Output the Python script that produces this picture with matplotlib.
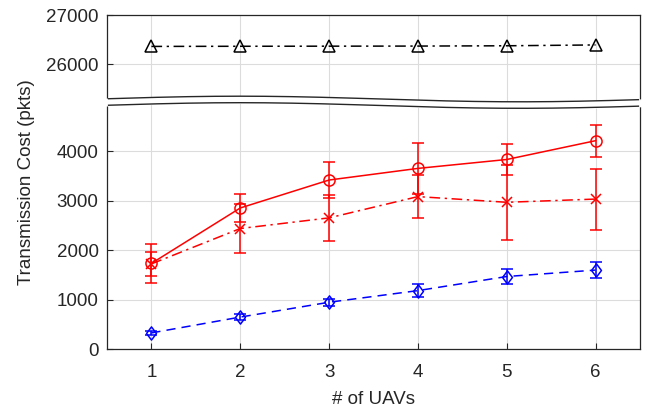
import numpy as np
import matplotlib.pyplot as plt
from matplotlib.path import Path

plt.rcParams['font.family'] = ['Liberation Sans', 'DejaVu Sans']

# data
n_uavs = [1, 2, 3, 4, 5, 6]
circle_cost = [1730, 2850, 3415, 3650, 3830, 4210]
circle_err = [390, 290, 370, 520, 315, 320]
cross_cost = [1720, 2435, 2650, 3080, 2965, 3030]
cross_err = [250, 500, 465, 435, 755, 615]
diamond_cost = [325, 645, 945, 1180, 1465, 1595]
diamond_err = [40, 60, 70, 130, 145, 160]
triangle_cost = [26365, 26368, 26370, 26372, 26378, 26395]

low_ticks = [0, 1000, 2000, 3000, 4000]
high_ticks = [26000, 27000]

# the upper block of the axis is shifted down onto the lower one
shift = 20250
ymax = 27000 - shift

dark = '#262626'
fig = plt.figure(figsize=(6.5, 4.13), dpi=100)
ax = fig.add_axes([107 / 650, 64 / 413, 533 / 650, 334 / 413])

diamond = Path([(-0.75, 0), (0, 1), (0.75, 0), (0, -1), (-0.75, 0)],
               [Path.MOVETO, Path.LINETO, Path.LINETO, Path.LINETO, Path.CLOSEPOLY])

ax.errorbar(n_uavs, diamond_cost, yerr=diamond_err, color='#0000ff', ls=(0, (6, 4)),
            lw=1.1, marker=diamond, ms=9.5, mfc='none', mew=1.1,
            capsize=4.5, elinewidth=1.1, capthick=1.1)
ax.errorbar(n_uavs, cross_cost, yerr=cross_err, color='#ff0000', ls=(0, (7, 3, 1.5, 3)),
            lw=1.1, marker='x', ms=7.5, mew=1.1,
            capsize=4.5, elinewidth=1.1, capthick=1.1)
ax.errorbar(n_uavs, circle_cost, yerr=circle_err, color='#ff0000', ls='-',
            lw=1.1, marker='o', ms=8, mfc='none', mew=1.1,
            capsize=4.5, elinewidth=1.1, capthick=1.1)
ax.plot(n_uavs, np.array(triangle_cost) - shift, color='black', ls=(0, (7, 3, 1.5, 3)),
        lw=1.1, marker='^', ms=9, mfc='none', mew=1.1)

ax.set_xlim(0.5, 6.5)
ax.set_ylim(0, ymax)
ax.set_xticks(n_uavs)
yt = low_ticks + [t - shift for t in high_ticks]
ax.set_yticks(yt)
ax.set_yticklabels([str(t) for t in low_ticks + high_ticks])
ax.grid(True, color='#dcdcdc', lw=0.8)
ax.set_axisbelow(True)
ax.tick_params(direction='in', length=4, width=0.8, colors=dark, labelsize=13.5, pad=6)
ax.tick_params(axis='x', pad=11)
for s in ax.spines.values():
    s.set_color(dark)
    s.set_linewidth(0.9)

ax.set_xlabel('# of UAVs', fontsize=13.5, color=dark, labelpad=7)
ax.set_ylabel('Transmission Cost (pkts)', fontsize=13.5, color=dark, labelpad=8)

# wavy break band (pixel geometry converted to axes fraction)
px = np.linspace(105, 642, 300)
upper = 99 - 2.8 * np.cos(2 * np.pi * (px - 240) / 560)
lower = upper + 6.5
fx = (px - 107) / 533
fu = (349 - upper) / 334
fl = (349 - lower) / 334
ax.fill_between(fx, fl, fu, color='white', transform=ax.transAxes, clip_on=False, zorder=5)
inner = (px >= 107) & (px <= 640)
ax.plot(fx[inner], fu[inner], color=dark, lw=1.0, transform=ax.transAxes, clip_on=False, zorder=6)
ax.plot(fx[inner], fl[inner], color=dark, lw=1.0, transform=ax.transAxes, clip_on=False, zorder=6)

plt.savefig('out.png', dpi=100)
